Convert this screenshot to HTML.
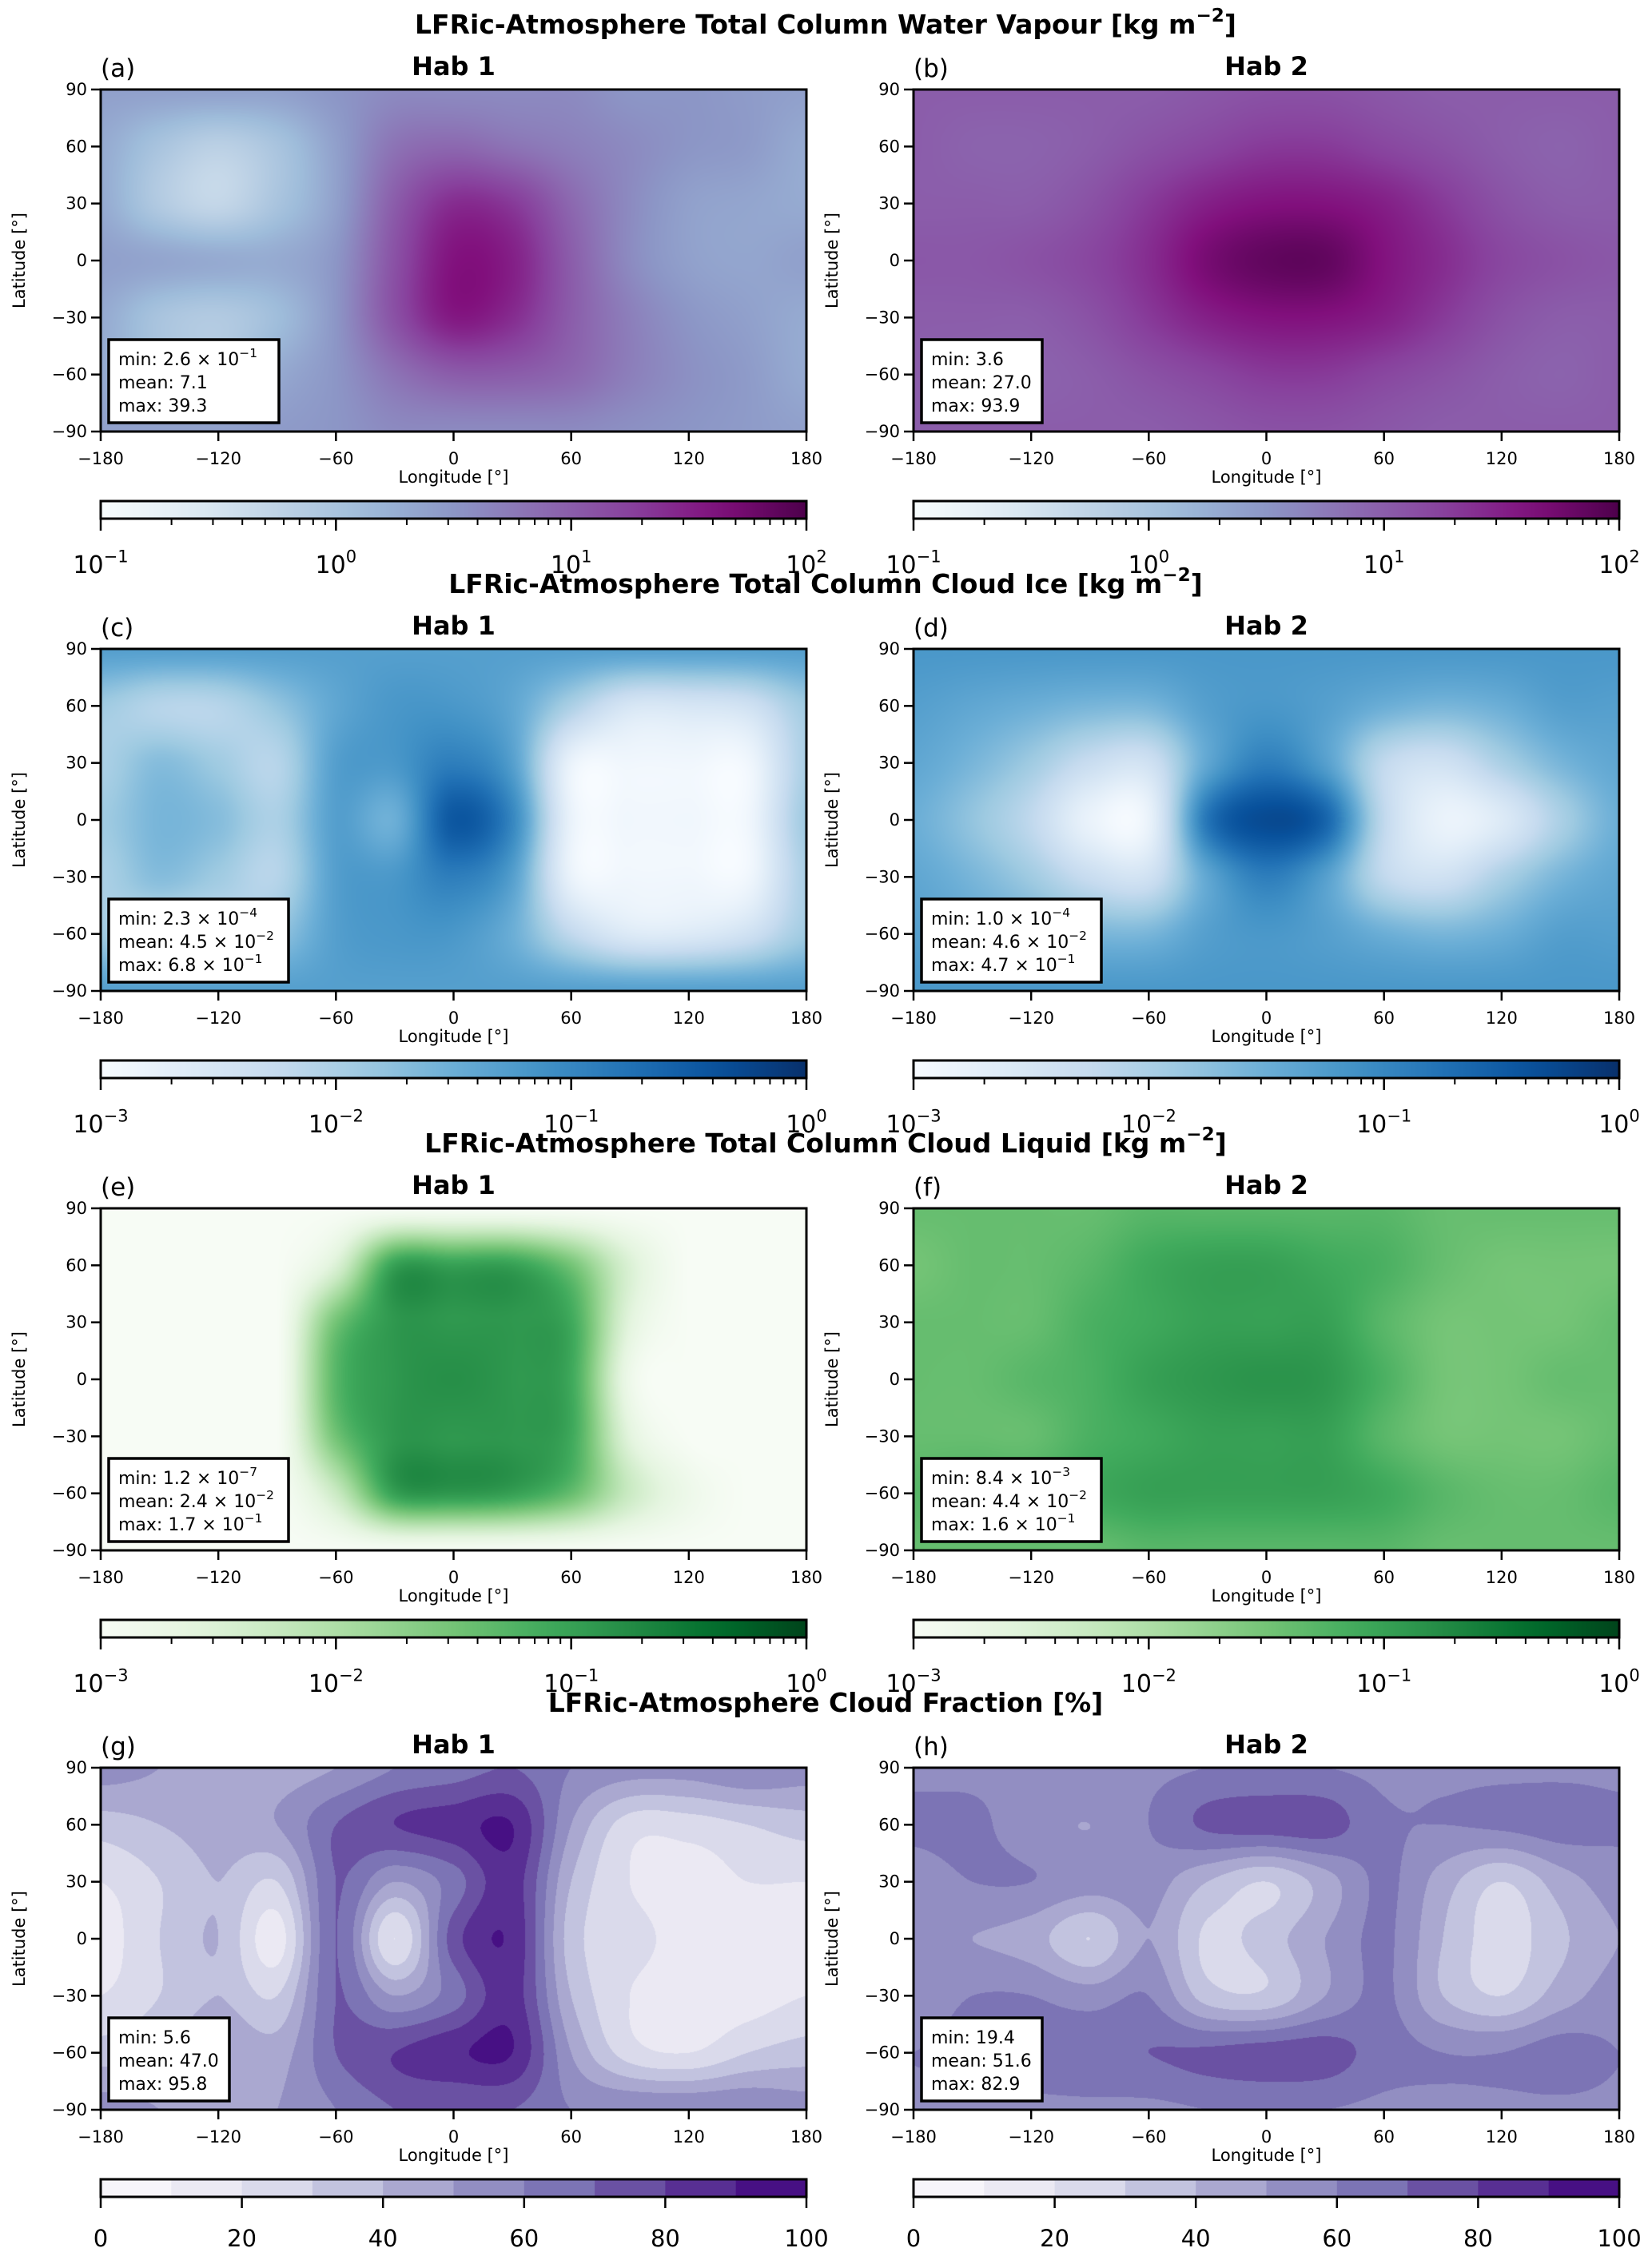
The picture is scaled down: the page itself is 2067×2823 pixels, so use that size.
<!DOCTYPE html>
<html><head><meta charset="utf-8">
<style>
html,body{margin:0;padding:0;background:#fff;}
#wrap{position:relative;width:2067px;height:2823px;overflow:hidden;}
canvas{position:absolute;}
svg{position:absolute;left:0;top:0;}
text{font-family:"DejaVu Sans","Liberation Sans",sans-serif;fill:#000;}
</style></head>
<body>
<div id="wrap">
<svg id="ov" width="2067" height="2823"></svg>
</div>
<script>
// ---- data grids: rows lat 90..-90 step 30, cols lon -180..180 step 30 ----
const gridLons=[-180,-150,-120,-90,-60,-30,0,30,60,90,120,150,180];
const gridLats=[90,60,30,0,-30,-60,-90];
// log10 kg m-2
const tcwvHab1=[
[0.4,0.4,0.4,0.4,0.5,0.6,0.6,0.6,0.6,0.5,0.5,0.45,0.4],
[0.3,0.0,-0.2,0.0,0.4,0.8,0.9,0.8,0.7,0.6,0.5,0.45,0.3],
[0.3,-0.1,-0.3,0.0,0.4,1.0,1.4,1.3,0.9,0.6,0.4,0.35,0.3],
[0.4,0.35,0.3,0.3,0.5,1.1,1.6,1.5,1.0,0.6,0.4,0.35,0.4],
[0.3,0.0,-0.1,0.1,0.5,1.1,1.55,1.4,1.0,0.7,0.5,0.4,0.3],
[0.3,0.1,0.0,0.3,0.5,0.8,1.0,1.0,0.9,0.7,0.55,0.45,0.3],
[0.4,0.4,0.4,0.45,0.5,0.6,0.6,0.6,0.6,0.55,0.5,0.45,0.4]];
const tcwvHab2=[
[1.0,1.0,1.0,1.0,1.0,1.05,1.1,1.1,1.05,1.0,1.0,1.0,1.0],
[1.0,0.95,0.95,1.0,1.1,1.2,1.3,1.3,1.2,1.1,1.0,0.95,1.0],
[1.0,1.0,1.0,1.1,1.3,1.5,1.6,1.6,1.5,1.3,1.1,1.0,1.0],
[1.05,1.05,1.1,1.2,1.4,1.7,1.85,1.85,1.6,1.4,1.2,1.1,1.05],
[1.0,1.0,1.0,1.1,1.3,1.5,1.6,1.6,1.5,1.3,1.1,1.0,1.0],
[1.0,0.95,0.95,1.0,1.1,1.2,1.3,1.3,1.2,1.1,1.0,0.95,1.0],
[1.0,1.0,1.0,1.0,1.0,1.05,1.1,1.1,1.05,1.0,1.0,1.0,1.0]];
const iceHab1=[
[-1.3,-1.3,-1.3,-1.3,-1.3,-1.3,-1.3,-1.3,-1.3,-1.3,-1.3,-1.3,-1.3],
[-1.9,-2.1,-2.1,-1.8,-1.4,-1.2,-1.2,-1.4,-2.0,-2.5,-2.5,-2.4,-1.9],
[-2.0,-1.7,-1.9,-2.1,-1.3,-1.2,-0.9,-1.3,-2.8,-2.9,-2.9,-2.9,-2.0],
[-1.9,-1.6,-1.7,-2.0,-1.3,-1.5,-0.45,-1.0,-2.8,-2.9,-2.9,-2.9,-1.9],
[-2.0,-1.7,-1.9,-2.1,-1.3,-1.2,-0.9,-1.3,-2.8,-2.9,-2.9,-2.9,-2.0],
[-1.9,-2.1,-2.1,-1.8,-1.3,-1.2,-1.2,-1.5,-2.2,-2.6,-2.6,-2.4,-1.9],
[-1.3,-1.3,-1.3,-1.3,-1.3,-1.3,-1.3,-1.3,-1.3,-1.3,-1.3,-1.3,-1.3]];
const iceHab2=[
[-1.2,-1.2,-1.2,-1.2,-1.2,-1.2,-1.2,-1.2,-1.2,-1.2,-1.2,-1.2,-1.2],
[-1.3,-1.4,-1.5,-1.6,-1.6,-1.3,-1.2,-1.3,-1.5,-1.6,-1.5,-1.3,-1.3],
[-1.4,-1.6,-1.9,-2.3,-2.4,-1.4,-0.9,-1.3,-2.2,-2.4,-2.0,-1.6,-1.4],
[-1.5,-1.8,-2.2,-2.8,-2.8,-0.8,-0.3,-0.6,-2.2,-2.8,-2.6,-2.0,-1.5],
[-1.4,-1.6,-1.9,-2.3,-2.4,-1.4,-0.9,-1.3,-2.2,-2.4,-2.0,-1.6,-1.4],
[-1.3,-1.4,-1.5,-1.6,-1.6,-1.3,-1.2,-1.3,-1.5,-1.6,-1.5,-1.3,-1.3],
[-1.2,-1.2,-1.2,-1.2,-1.2,-1.2,-1.2,-1.2,-1.2,-1.2,-1.2,-1.2,-1.2]];
const liqHab1=[
[-3,-3,-3,-3,-3,-3,-3,-3,-3,-3,-3,-3,-3],
[-3,-3,-3,-3,-2.5,-1.0,-1.0,-1.0,-1.5,-2.5,-3,-3,-3],
[-3,-3,-3,-3,-1.5,-0.9,-0.9,-0.9,-1.1,-2.6,-3,-3,-3],
[-3,-3,-3,-3,-1.3,-0.9,-0.8,-0.9,-1.1,-2.8,-3,-3,-3],
[-3,-3,-3,-3,-1.5,-0.9,-0.9,-0.9,-1.1,-2.6,-3,-3,-3],
[-3,-3,-3,-3,-2.3,-1.0,-0.9,-1.0,-1.4,-2.3,-2.8,-3,-3],
[-3,-3,-3,-3,-3,-3,-3,-3,-3,-3,-3,-3,-3]];
const liqHab2=[
[-1.4,-1.4,-1.4,-1.4,-1.3,-1.3,-1.3,-1.3,-1.3,-1.4,-1.4,-1.4,-1.4],
[-1.5,-1.4,-1.4,-1.3,-1.1,-1.0,-1.0,-1.1,-1.2,-1.4,-1.5,-1.5,-1.5],
[-1.4,-1.4,-1.4,-1.2,-1.1,-1.0,-1.0,-1.0,-1.3,-1.5,-1.5,-1.5,-1.4],
[-1.4,-1.4,-1.3,-1.2,-1.0,-0.9,-0.85,-0.9,-1.2,-1.5,-1.5,-1.4,-1.4],
[-1.4,-1.4,-1.4,-1.2,-1.1,-1.0,-1.0,-1.0,-1.3,-1.5,-1.5,-1.5,-1.4],
[-1.3,-1.2,-1.2,-1.1,-1.0,-1.0,-1.0,-1.0,-1.1,-1.3,-1.4,-1.4,-1.3],
[-1.4,-1.4,-1.4,-1.4,-1.3,-1.3,-1.3,-1.3,-1.3,-1.4,-1.4,-1.4,-1.4]];
// percent
const cfHab1=[
[55,50,45,45,50,60,65,70,60,55,55,60,55],
[35,40,45,50,70,80,85,90,50,25,25,30,35],
[20,30,40,30,70,50,65,85,40,20,15,20,20],
[15,30,40,15,70,20,75,88,35,25,15,15,15],
[20,30,40,30,70,50,65,85,40,20,15,15,20],
[35,40,50,45,70,80,88,90,50,25,20,30,35],
[55,50,45,50,60,70,70,70,60,60,60,60,55]];
const cfHab2=[
[58,58,58,58,58,60,60,60,58,58,58,58,58],
[62,62,55,50,60,72,75,75,62,60,62,65,62],
[55,60,60,55,55,40,30,45,62,45,30,45,55],
[50,50,45,30,50,28,35,50,62,40,25,38,50],
[55,60,60,55,60,35,32,50,62,40,30,45,55],
[60,62,65,68,70,72,75,75,65,60,60,65,60],
[58,58,58,58,58,60,60,60,58,58,58,58,58]];
const lonTicks=[-180,-120,-60,0,60,120,180];
const latTicks=[90,60,30,0,-30,-60,-90];
const cfTicks=[0,20,40,60,80,100];

const CM={
BuPu:['#f7fcfd','#e0ecf4','#bfd3e6','#9ebcda','#8c96c6','#8c6bb1','#88419d','#810f7c','#4d004b'],
Blues:['#f7fbff','#deebf7','#c6dbef','#9ecae1','#6baed6','#4292c6','#2171b5','#08519c','#08306b'],
Greens:['#f7fcf5','#e5f5e0','#c7e9c0','#a1d99b','#74c476','#41ab5d','#238b45','#006d2c','#00441b'],
Purples:['#fcfbfd','#efedf5','#dadaeb','#bcbddc','#9e9ac8','#807dba','#6a51a3','#54278f','#3f007d']};
function hex(h){return [parseInt(h.slice(1,3),16),parseInt(h.slice(3,5),16),parseInt(h.slice(5,7),16)];}
function cmap(name,t){t=Math.max(0,Math.min(1,t));const s=CM[name].map(hex);const f=t*(s.length-1);const i=Math.min(s.length-2,Math.floor(f));const u=f-i;
return [0,1,2].map(k=>Math.round(s[i][k]+(s[i+1][k]-s[i][k])*u));}
function cr(p0,p1,p2,p3,t){return 0.5*((2*p1)+(-p0+p2)*t+(2*p0-5*p1+4*p2-p3)*t*t+(-p0+3*p1-3*p2+p3)*t*t*t);}
function interp(g,lon,lat){let fi=(lon+180)/30,fj=(90-lat)/30;let i=Math.min(11,Math.floor(fi)),j=Math.min(5,Math.floor(fj));let u=fi-i,v=fj-j;
  const ci=k=>Math.max(0,Math.min(12,k)),cj=k=>Math.max(0,Math.min(6,k));
  const rowv=jj=>{const r=g[cj(jj)];return cr(r[ci(i-1)],r[ci(i)],r[ci(i+1)],r[ci(i+2)],u);};
  return cr(rowv(j-1),rowv(j),rowv(j+1),rowv(j+2),v);}

const rows=[
{title:'LFRic-Atmosphere Total Column Water Vapour [kg m',sup:'−2',cm:'BuPu',lo:-1,hi:2,grids:[tcwvHab1,tcwvHab2],labels:['(a)','(b)'],
 stats:[[['min: 2.6 × 10','−1'],['mean: 7.1'],['max: 39.3']],[['min: 3.6'],['mean: 27.0'],['max: 93.9']]]},
{title:'LFRic-Atmosphere Total Column Cloud Ice [kg m',sup:'−2',cm:'Blues',lo:-3,hi:0,grids:[iceHab1,iceHab2],labels:['(c)','(d)'],
 stats:[[['min: 2.3 × 10','−4'],['mean: 4.5 × 10','−2'],['max: 6.8 × 10','−1']],[['min: 1.0 × 10','−4'],['mean: 4.6 × 10','−2'],['max: 4.7 × 10','−1']]]},
{title:'LFRic-Atmosphere Total Column Cloud Liquid [kg m',sup:'−2',cm:'Greens',lo:-3,hi:0,grids:[liqHab1,liqHab2],labels:['(e)','(f)'],
 stats:[[['min: 1.2 × 10','−7'],['mean: 2.4 × 10','−2'],['max: 1.7 × 10','−1']],[['min: 8.4 × 10','−3'],['mean: 4.4 × 10','−2'],['max: 1.6 × 10','−1']]]},
{title:'LFRic-Atmosphere Cloud Fraction [%]',sup:null,cm:'Purples',lo:0,hi:100,disc:true,grids:[cfHab1,cfHab2],labels:['(g)','(h)'],
 stats:[[['min: 5.6'],['mean: 47.0'],['max: 95.8']],[['min: 19.4'],['mean: 51.6'],['max: 82.9']]]}];

const NS='http://www.w3.org/2000/svg';
const svg=document.getElementById('ov');
const wrap=document.getElementById('wrap');
function el(tag,attrs,parent){const e=document.createElementNS(NS,tag);for(const k in attrs)e.setAttribute(k,attrs[k]);(parent||svg).appendChild(e);return e;}
function txt(x,y,s,size,anchor,weight,parent){const t=el('text',{x:x,y:y,'font-size':size,'text-anchor':anchor||'start','font-weight':weight||'normal'},parent);t.textContent=s;return t;}
function sup(t,s,size){const ts=document.createElementNS(NS,'tspan');ts.setAttribute('dy',-size*0.45);ts.setAttribute('font-size',size*0.7);ts.textContent=s;t.appendChild(ts);}

const PX=[126,1143],PW=883,PH=428,ROW0=112,RS=700;
const defs=el('defs',{});
rows.forEach((r,ri)=>{
  const top=ROW0+ri*RS;
  const tt=txt(1033,top-70,r.title,33,'middle','bold');
  
  if(r.sup){sup(tt,r.sup,33);const ts=document.createElementNS(NS,'tspan');ts.setAttribute('dy',33*0.45);ts.textContent=']';tt.appendChild(ts);}
  [0,1].forEach(pi=>{
    const x0=PX[pi];
    const g=el('g',{});
    
    
    const cv=document.createElement('canvas');cv.width=PW;cv.height=PH;cv.style.left=x0+'px';cv.style.top=top+'px';
    
    
    wrap.insertBefore(cv,svg);
    const ctx=cv.getContext('2d');const im=ctx.createImageData(PW,PH);
    const grid=r.grids[pi];
    for(let y=0;y<PH;y++){const lat=90-180*(y+0.5)/PH;for(let x=0;x<PW;x++){const lon=-180+360*(x+0.5)/PW;let v=interp(grid,lon,lat);let t;
      if(r.disc){const b=Math.max(0,Math.min(9,Math.floor(v/10)));t=(b+0.5)/10;}else t=(v-r.lo)/(r.hi-r.lo);
      const c=cmap(r.cm,t);const o=(y*PW+x)*4;im.data[o]=c[0];im.data[o+1]=c[1];im.data[o+2]=c[2];im.data[o+3]=255;}}
    ctx.putImageData(im,0,0);
    el('rect',{x:x0,y:top,width:PW,height:PH,fill:'none',stroke:'#000','stroke-width':3},g);
    const xs=lon=>x0+(lon+180)/360*PW, ys=lat=>top+(90-lat)/180*PH;
    lonTicks.forEach(l=>{el('line',{x1:xs(l),x2:xs(l),y1:top+PH,y2:top+PH+12,stroke:'#000','stroke-width':2.5},g);txt(xs(l),top+PH+41,String(l).replace('-','−'),21,'middle',null,g);});
    latTicks.forEach(l=>{el('line',{x1:x0-12,x2:x0,y1:ys(l),y2:ys(l),stroke:'#000','stroke-width':2.5},g);txt(x0-17,ys(l)+7,String(l).replace('-','−'),21,'end',null,g);});
    txt(x0+PW/2,top+PH+64,'Longitude [°]',21,'middle',null,g);
    const yl=txt(0,0,'Latitude [°]',21,'middle',null,g);yl.setAttribute('transform','translate('+(x0-95)+','+(top+PH/2)+') rotate(-90)');
    txt(x0,top-16,r.labels[pi],31,'start',null,g);
    txt(x0+PW/2,top-18,'Hab '+(pi+1),32,'middle','bold',g);
    const st=r.stats[pi];const maxLen=Math.max(...st.map(s=>s[0].length+(s[1]?2:0)));
    const bw=Math.round(maxLen*12.3+28),bh=104;
    const box=el('g',{},g);
    el('rect',{x:x0+10,y:top+PH-11-bh,width:bw,height:bh,fill:'#fff',stroke:'#000','stroke-width':3.5},box);
    st.forEach((s,k)=>{const t=txt(x0+22,top+PH-11-bh+32+k*29,s[0],22,'start',null,box);if(s[1])sup(t,s[1],22);});
    const cy=top+515,ch=22;
    const cb=el('g',{},g);
    if(r.disc){for(let b=0;b<10;b++){const c=cmap(r.cm,(b+0.5)/10);el('rect',{x:x0+b*PW/10,y:cy,width:PW/10+0.5,height:ch,fill:'rgb('+c.join(',')+')'},cb);}
      cfTicks.forEach(v=>{const x=x0+v/100*PW;el('line',{x1:x,x2:x,y1:cy+ch,y2:cy+ch+14,stroke:'#000','stroke-width':2.5},cb);txt(x,cy+ch+62,String(v),29,'middle',null,cb);});
    }else{
      const gid='gr'+ri;const lg=el('linearGradient',{id:gid,x1:0,x2:1,y1:0,y2:0},defs);
      for(let k=0;k<=20;k++){const c=cmap(r.cm,k/20);el('stop',{offset:k/20,'stop-color':'rgb('+c.join(',')+')'},lg);}
      el('rect',{x:x0,y:cy,width:PW,height:ch,fill:'url(#'+gid+')'},cb);
      for(let d=r.lo;d<=r.hi;d++){const x=x0+(d-r.lo)/(r.hi-r.lo)*PW;el('line',{x1:x,x2:x,y1:cy+ch,y2:cy+ch+15,stroke:'#000','stroke-width':2.5},cb);
        const t=txt(x,cy+ch+68,'10',30,'middle',null,cb);sup(t,String(d).replace('-','−'),30);
        if(d<r.hi)for(let m=2;m<=9;m++){const xm=x0+(d+Math.log10(m)-r.lo)/(r.hi-r.lo)*PW;el('line',{x1:xm,x2:xm,y1:cy+ch,y2:cy+ch+8,stroke:'#000','stroke-width':2},cb);}}
    }
    el('rect',{x:x0,y:cy,width:PW,height:ch,fill:'none',stroke:'#000','stroke-width':3},cb);
  });
});
</script>
</body></html>
